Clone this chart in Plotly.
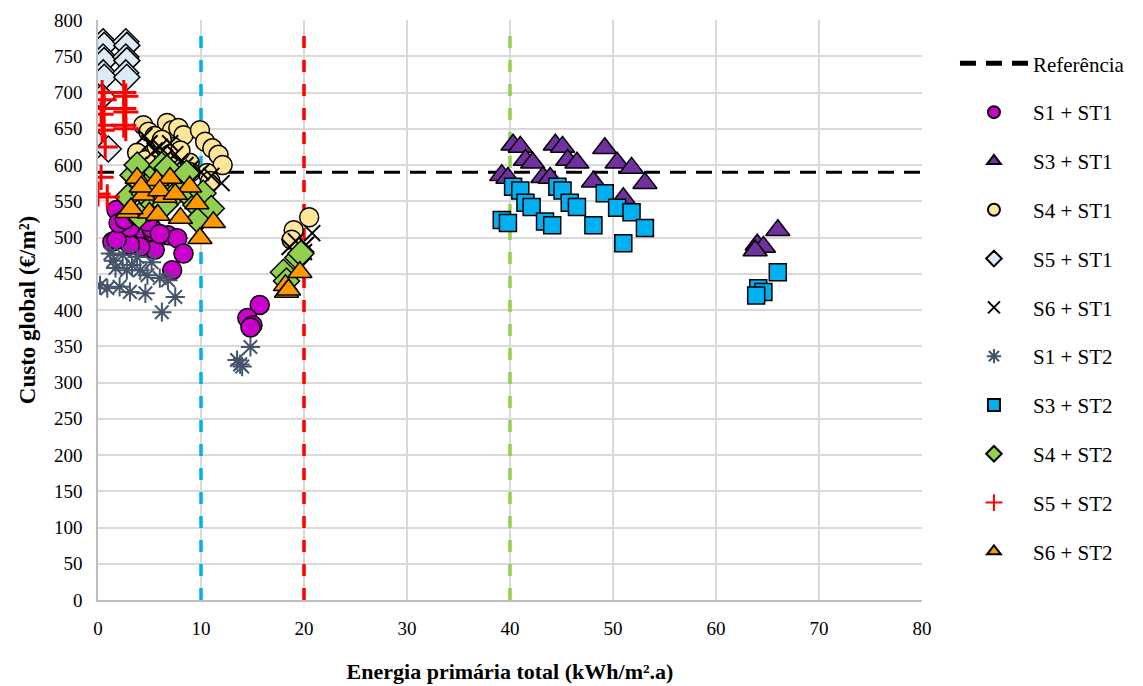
import plotly.graph_objects as go

FONT = "Liberation Serif, Times New Roman, serif"

# ---- data ----
ref_value = 590
ref_x = [0, 80]

vline_x = [10, 20, 40]
vline_colors = ["#00B0F0", "#FF0000", "#92D050"]
vline_y = [0, 780]

s1st1_x = [1.4, 2.4, 3.4, 4.4, 5.3, 6.8, 7.7, 8.3, 7.2, 5.5, 4.1, 3.1, 1.8, 1.8, 3.1, 5.2, 2.0, 2.6, 3.8, 4.8, 6.0, 15.7, 14.5, 15.0, 14.8]
s1st1_y = [494, 510, 510, 510, 508, 503, 499, 478, 455, 483, 487, 490, 538, 497, 514, 513, 520, 525, 530, 522, 505, 407, 389, 379, 376]

s3st1_x = [40.3, 41.0, 41.5, 42.2, 39.2, 39.8, 43.2, 43.9, 44.4, 45.1, 45.6, 46.5, 48.1, 49.2, 50.4, 51.8, 53.1, 51.0, 64.0, 64.6, 66.0, 63.8]
s3st1_y = [628, 625, 607, 603, 586, 582, 583, 582, 628, 625, 607, 603, 577, 623, 603, 596, 575, 554, 490, 487, 510, 482]

s4st1_x = [4.4, 4.9, 6.7, 7.2, 7.8, 8.3, 9.9, 10.4, 11.1, 11.7, 12.1, 3.8, 4.6, 5.7, 7.3, 8.9, 10.6, 10.9, 5.5, 6.2, 7.0, 8.0, 9.0, 19.0, 20.5, 18.8]
s4st1_y = [655, 646, 658, 648, 651, 641, 648, 632, 623, 614, 600, 617, 607, 625, 625, 603, 589, 578, 640, 635, 615, 620, 590, 510, 528, 497]

s5st1_x = [0.5, 0.6, 2.7, 2.8, 0.5, 0.6, 2.7, 2.8, 0.5, 0.6, 2.7, 2.8, 0.0, 1.0, 0.4]
s5st1_y = [770, 765, 770, 765, 749, 744, 749, 744, 727, 721, 727, 721, 628, 622, 694]

s6st1_x = [4.5, 5.0, 5.5, 6.0, 6.5, 7.0, 7.5, 8.0, 8.5, 9.0, 10.0, 11.0, 12.0, 4.0, 5.0, 6.0, 7.0, 3.5, 18.6, 19.2, 20.2, 20.0, 20.8]
s6st1_y = [640, 630, 620, 625, 610, 630, 615, 605, 600, 595, 590, 585, 575, 600, 590, 585, 580, 570, 487, 495, 490, 480, 506]

s1st2_x = [1.2, 2.4, 3.8, 1.7, 2.8, 4.1, 5.2, 0.2, 0.9, 2.1, 3.1, 4.6, 6.0, 6.8, 7.5, 6.2, 1.5, 3.3, 4.8, 14.8, 13.5, 14.0, 13.8]
s1st2_y = [478, 476, 473, 458, 455, 455, 466, 434, 430, 432, 425, 423, 444, 441, 418, 397, 468, 462, 448, 349, 331, 322, 325]

s3st2_x = [40.3, 41.0, 41.5, 42.1, 39.2, 39.8, 43.4, 44.1, 44.6, 45.1, 45.8, 46.5, 48.1, 49.2, 50.4, 51.8, 53.1, 51.0, 64.1, 64.6, 66.0, 63.9]
s3st2_y = [570, 565, 548, 542, 524, 520, 522, 517, 570, 565, 548, 542, 517, 561, 541, 535, 513, 492, 430, 425, 452, 420]

s4st2_x = [2.9, 3.4, 3.8, 4.5, 5.0, 5.7, 6.2, 6.7, 7.0, 7.5, 8.0, 8.6, 9.0, 9.5, 10.2, 9.7, 11.0, 5.0, 6.5, 4.0, 18.0, 18.3, 19.4, 19.7]
s4st2_y = [556, 586, 600, 560, 575, 590, 600, 596, 570, 560, 580, 589, 555, 545, 561, 524, 540, 540, 545, 530, 452, 440, 472, 478]

s5st2_x = [0.4, 0.6, 0.5, 0.3, 0.6, 0.4, 2.5, 2.7, 2.5, 2.7, 2.5, 2.7, 0.7, 0.3, 0.0, 0.9]
s5st2_y = [700, 690, 678, 670, 655, 648, 700, 695, 678, 673, 655, 650, 625, 583, 560, 556]

s6st2_x = [3.8, 5.7, 7.0, 8.9, 2.9, 4.4, 5.0, 6.5, 8.0, 9.6, 11.2, 9.9, 5.8, 3.2, 4.2, 6.0, 7.5, 18.2, 19.6, 18.3, 18.5]
s6st2_y = [582, 579, 582, 570, 535, 559, 534, 556, 527, 547, 521, 499, 531, 540, 570, 565, 560, 434, 452, 425, 428]

x_ticks = [0, 10, 20, 30, 40, 50, 60, 70, 80]
y_ticks = list(range(0, 801, 50))

# ---- figure ----
fig = go.Figure()

fig.add_trace(go.Scatter(
    x=ref_x, y=[ref_value, ref_value], mode="lines", name="Referência",
    line=dict(color="black", width=3, dash="16px,10px"), legendgroup="ref"))

for vx, vc in zip(vline_x, vline_colors):
    fig.add_trace(go.Scatter(
        x=[vx, vx], y=vline_y, mode="lines", showlegend=False, hoverinfo="skip",
        line=dict(color=vc, width=3.5, dash="12px,12px")))

OUT = dict(color="black", width=1.5)
series = [
    ("S1 + ST1", s1st1_x, s1st1_y, dict(symbol="circle", size=19, color="#CC00CC", line=OUT)),
    ("S3 + ST1", s3st1_x, s3st1_y, dict(symbol="triangle-up", size=21, color="#7030A0", line=OUT)),
    ("S4 + ST1", s4st1_x, s4st1_y, dict(symbol="circle", size=19, color="#FFE699", line=OUT)),
    ("S5 + ST1", s5st1_x, s5st1_y, dict(symbol="diamond", size=20, color="#DDEBF7", line=OUT)),
    ("S6 + ST1", s6st1_x, s6st1_y, dict(symbol="x-thin-open", size=16, color="black", line=dict(color="black", width=2))),
    ("S1 + ST2", s1st2_x, s1st2_y, dict(symbol="asterisk-open", size=16, color="#44546A", line=dict(color="#44546A", width=2))),
    ("S3 + ST2", s3st2_x, s3st2_y, dict(symbol="square", size=17, color="#00B0F0", line=OUT)),
    ("S4 + ST2", s4st2_x, s4st2_y, dict(symbol="diamond", size=20, color="#92D050", line=OUT)),
    ("S5 + ST2", s5st2_x, s5st2_y, dict(symbol="cross-thin-open", size=18, color="#FF0000", line=dict(color="#FF0000", width=3))),
    ("S6 + ST2", s6st2_x, s6st2_y, dict(symbol="triangle-up", size=21, color="#FF9900", line=OUT)),
]
for name, xs, ys, mk in series:
    fig.add_trace(go.Scatter(x=xs, y=ys, mode="markers", name=name, marker=mk, legendgroup=name))

axis_common = dict(
    showgrid=True, gridcolor="#D9D9D9", gridwidth=1.5,
    showline=True, linecolor="#BFBFBF", linewidth=1.5,
    zeroline=False, ticks="", automargin=False,
    tickfont=dict(family=FONT, size=19, color="black"),
)
fig.update_xaxes(range=[0, 80], tickvals=x_ticks, ticklabelstandoff=10,
                 title=dict(text="<b>Energia primária total (kWh/m².a)</b>",
                            font=dict(family=FONT, size=22, color="black"), standoff=26),
                 **axis_common)
fig.update_yaxes(range=[0, 800], tickvals=y_ticks, ticklabelstandoff=10,
                 title=dict(text="<b>Custo global (€/m²)</b>",
                            font=dict(family=FONT, size=23, color="black"), standoff=12),
                 **axis_common)

fig.update_layout(
    width=1143, height=686,
    margin=dict(l=98, r=221, t=20, b=86),
    plot_bgcolor="white", paper_bgcolor="white",
    font=dict(family=FONT, size=19, color="black"),
    legend=dict(x=1.04, xanchor="left", y=0.96, yanchor="top",
                font=dict(family=FONT, size=21, color="black"),
                tracegroupgap=18.5, itemwidth=68, itemsizing="constant",
                bgcolor="rgba(0,0,0,0)"),
    showlegend=True,
)

fig.write_html("out.html")
